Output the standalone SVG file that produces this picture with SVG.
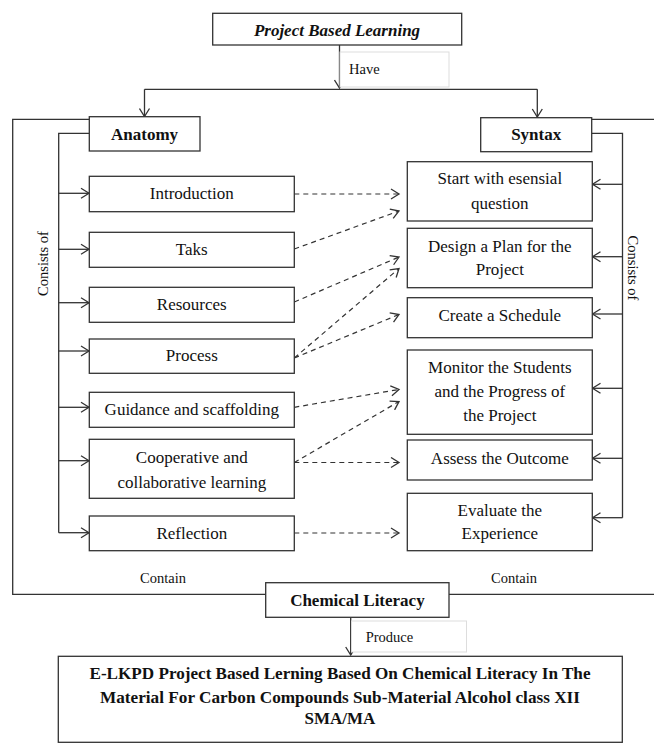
<svg xmlns="http://www.w3.org/2000/svg" width="654" height="744" viewBox="0 0 654 744">
<style>
.box{fill:#fff;stroke:#333;stroke-width:1.3}
.lbl{fill:#fff;stroke:#ddd;stroke-width:1}
.ln{fill:none;stroke:#333;stroke-width:1.3}
.dash{fill:none;stroke:#333;stroke-width:1.2;stroke-dasharray:5 4}
.t{font-family:'Liberation Serif','Times New Roman',Tinos,'DejaVu Serif',serif;font-size:17px;fill:#111;text-anchor:middle}
.b{font-weight:bold}
.s{font-family:'Liberation Serif','Times New Roman',Tinos,'DejaVu Serif',serif;font-size:14.5px;fill:#111}
</style>
<defs>
<marker id="arr" markerWidth="12" markerHeight="12" refX="10" refY="6" orient="auto" markerUnits="userSpaceOnUse">
<path d="M2,1 L10,6 L2,11" fill="none" stroke="#333" stroke-width="1.3"/>
</marker>
</defs>
<g id="connectors">
<line class="ln" x1="339.5" y1="45" x2="339.5" y2="88" marker-end="url(#arr)"/>
<polyline class="ln" points="144.5,89.3 537.3,89.3" />
<line class="ln" x1="144.5" y1="89.3" x2="144.5" y2="116.5" marker-end="url(#arr)"/>
<line class="ln" x1="537.3" y1="89.3" x2="537.3" y2="117" marker-end="url(#arr)"/>
<polyline class="ln" points="89.3,119.3 12.7,119.3 12.7,594.3 265.7,594.3"/>
<polyline class="ln" points="591.7,119.3 656,119.3"/>
<polyline class="ln" points="449,594.3 656,594.3"/>
<polyline class="ln" points="89.3,133.3 58.7,133.3 58.7,532.7"/>
<line class="ln" x1="58.7" y1="193.3" x2="89" y2="193.3" marker-end="url(#arr)"/>
<line class="ln" x1="58.7" y1="249.3" x2="89" y2="249.3" marker-end="url(#arr)"/>
<line class="ln" x1="58.7" y1="302.7" x2="89" y2="302.7" marker-end="url(#arr)"/>
<line class="ln" x1="58.7" y1="351" x2="89" y2="351" marker-end="url(#arr)"/>
<line class="ln" x1="58.7" y1="407.3" x2="89" y2="407.3" marker-end="url(#arr)"/>
<line class="ln" x1="58.7" y1="460.7" x2="89" y2="460.7" marker-end="url(#arr)"/>
<line class="ln" x1="58.7" y1="532.7" x2="89" y2="532.7" marker-end="url(#arr)"/>
<polyline class="ln" points="591.7,133.3 622.5,133.3 622.5,517.7"/>
<line class="ln" x1="622.5" y1="184.3" x2="592.5" y2="184.3" marker-end="url(#arr)"/>
<line class="ln" x1="622.5" y1="256.7" x2="592.5" y2="256.7" marker-end="url(#arr)"/>
<line class="ln" x1="622.5" y1="314" x2="592.5" y2="314" marker-end="url(#arr)"/>
<line class="ln" x1="622.5" y1="388.3" x2="592.5" y2="388.3" marker-end="url(#arr)"/>
<line class="ln" x1="622.5" y1="458.3" x2="592.5" y2="458.3" marker-end="url(#arr)"/>
<line class="ln" x1="622.5" y1="517.7" x2="592.5" y2="517.7" marker-end="url(#arr)"/>
<line class="dash" x1="294.3" y1="194" x2="399" y2="194" marker-end="url(#arr)"/>
<line class="dash" x1="294.3" y1="249" x2="399" y2="211" marker-end="url(#arr)"/>
<line class="dash" x1="294.3" y1="302" x2="399" y2="257" marker-end="url(#arr)"/>
<line class="dash" x1="294.3" y1="358" x2="399" y2="268.5" marker-end="url(#arr)"/>
<line class="dash" x1="294.3" y1="358" x2="399" y2="314.5" marker-end="url(#arr)"/>
<line class="dash" x1="294.3" y1="407.3" x2="399" y2="389.5" marker-end="url(#arr)"/>
<line class="dash" x1="294.3" y1="462.5" x2="399" y2="401.5" marker-end="url(#arr)"/>
<line class="dash" x1="294.3" y1="462.5" x2="399" y2="462.5" marker-end="url(#arr)"/>
<line class="dash" x1="294.3" y1="533" x2="399" y2="533" marker-end="url(#arr)"/>
<line class="ln" x1="350.7" y1="617.3" x2="350.7" y2="655" marker-end="url(#arr)"/>
</g>
<g id="label-have"><rect class="lbl" x="340" y="52" width="109" height="35"/><text class="s" x="349" y="74">Have</text></g>
<g id="label-produce"><rect class="lbl" x="351.5" y="621" width="115" height="31"/><text class="s" x="365.7" y="641.5">Produce</text></g>
<g id="pbl"><rect class="box" x="212.7" y="13.3" width="249" height="31.7"/><text class="t b" x="337" y="36" font-style="italic">Project Based Learning</text></g>
<g id="anatomy"><rect class="box" x="89.3" y="116.7" width="110.7" height="34.3"/><text class="t b" x="144.6" y="139.5">Anatomy</text></g>
<g id="syntax"><rect class="box" x="480.7" y="117.7" width="111" height="34"/><text class="t b" x="536.2" y="140">Syntax</text></g>
<g id="introduction"><rect class="box" x="89.3" y="176.3" width="205" height="35.4"/><text class="t" x="191.8" y="199">Introduction</text></g>
<g id="taks"><rect class="box" x="89.3" y="232.3" width="205" height="35"/><text class="t" x="191.8" y="255">Taks</text></g>
<g id="resources"><rect class="box" x="89.3" y="287.3" width="205" height="35"/><text class="t" x="191.8" y="310">Resources</text></g>
<g id="process"><rect class="box" x="89.3" y="339" width="205" height="34.3"/><text class="t" x="191.8" y="361">Process</text></g>
<g id="guidance"><rect class="box" x="89.3" y="392.3" width="205" height="35"/><text class="t" x="191.8" y="415">Guidance and scaffolding</text></g>
<g id="cooperative"><rect class="box" x="89.3" y="439.3" width="205" height="59"/><text class="t" x="191.8" y="463">Cooperative and</text><text class="t" x="191.8" y="487.5">collaborative learning</text></g>
<g id="reflection"><rect class="box" x="89.3" y="516" width="205" height="34.7"/><text class="t" x="191.8" y="538.5">Reflection</text></g>
<g id="start"><rect class="box" x="407.3" y="161.7" width="185" height="59.3"/><text class="t" x="499.8" y="184">Start with esensial</text><text class="t" x="499.8" y="208.5">question</text></g>
<g id="design"><rect class="box" x="407.3" y="228.3" width="185" height="59.4"/><text class="t" x="499.8" y="252">Design a Plan for the</text><text class="t" x="499.8" y="275">Project</text></g>
<g id="schedule"><rect class="box" x="407.3" y="297.7" width="185" height="40"/><text class="t" x="499.8" y="321">Create a Schedule</text></g>
<g id="monitor"><rect class="box" x="407.3" y="350" width="185" height="84.3"/><text class="t" x="499.8" y="372.5">Monitor the Students</text><text class="t" x="499.8" y="396.5">and the Progress of</text><text class="t" x="499.8" y="421">the Project</text></g>
<g id="assess"><rect class="box" x="407.3" y="440" width="185" height="40"/><text class="t" x="499.8" y="464">Assess the Outcome</text></g>
<g id="evaluate"><rect class="box" x="407.3" y="493.3" width="185" height="57.4"/><text class="t" x="499.8" y="516">Evaluate the</text><text class="t" x="499.8" y="539">Experience</text></g>
<g id="consists-left"><text class="s" text-anchor="middle" transform="translate(48,263.5) rotate(-90)">Consists of</text></g>
<g id="consists-right"><text class="s" text-anchor="middle" transform="translate(628,268) rotate(90)">Consists of</text></g>
<g id="contain-left"><text class="s" text-anchor="middle" x="163" y="583">Contain</text></g>
<g id="contain-right"><text class="s" text-anchor="middle" x="514" y="583">Contain</text></g>
<g id="chemical-literacy"><rect class="box" x="265.7" y="582.7" width="183.3" height="34.6"/><text class="t b" x="357.4" y="606">Chemical Literacy</text></g>
<g id="elkpd"><rect class="box" x="58.3" y="656.3" width="564" height="86"/>
<text class="t b" x="340" y="679" textLength="501" lengthAdjust="spacingAndGlyphs">E-LKPD Project Based Lerning Based On Chemical Literacy In The</text>
<text class="t b" x="340" y="702.5" textLength="480" lengthAdjust="spacingAndGlyphs">Material For Carbon Compounds Sub-Material Alcohol class XII</text>
<text class="t b" x="340" y="724">SMA/MA</text></g>
</svg>
